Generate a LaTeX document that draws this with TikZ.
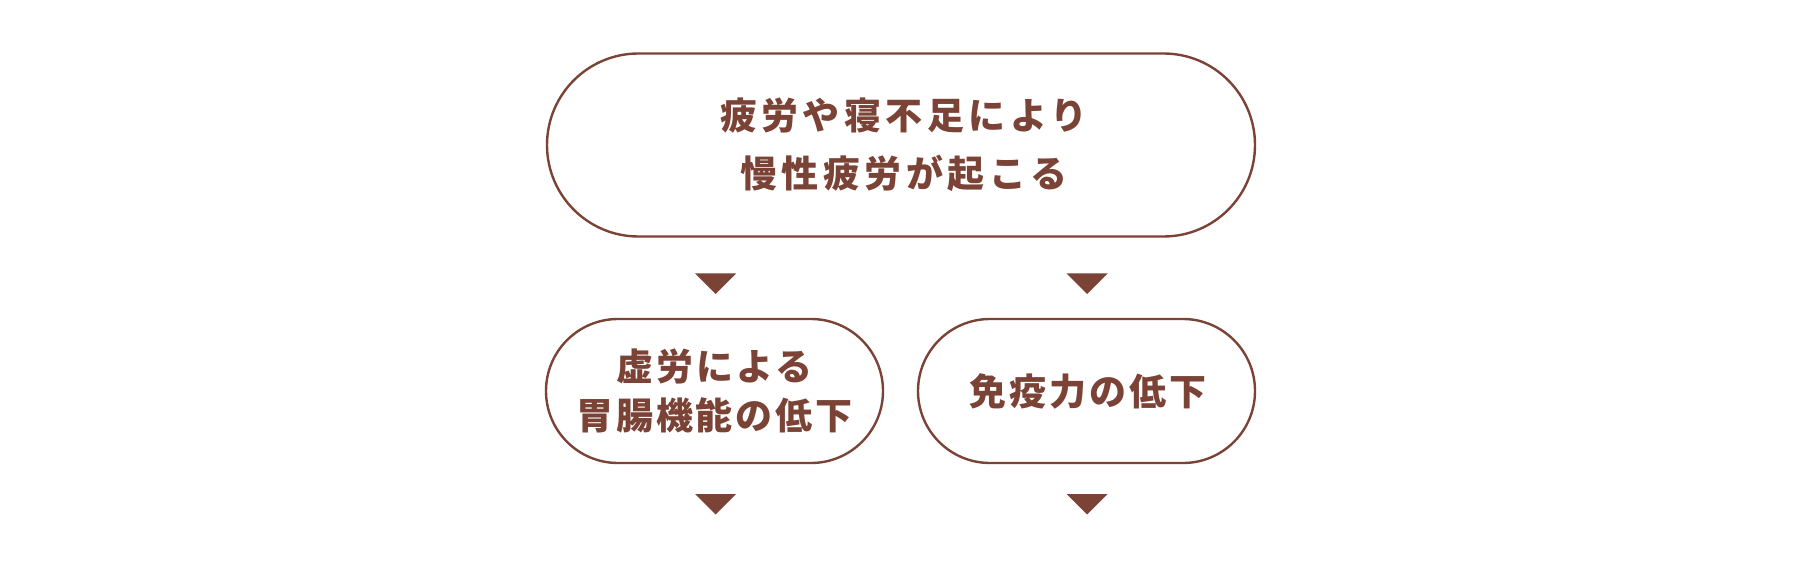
\documentclass[tikz,border=0pt]{standalone}
\usepackage{fontspec}
\newfontfamily\cjkwide{Noto Sans CJK JP}[LetterSpace=12]
\newfontfamily\cjknarrow{Noto Sans CJK JP}[LetterSpace=8]
\definecolor{brn}{RGB}{123,66,54}
\begin{document}
\begin{tikzpicture}[x=1pt,y=-1pt,
  pill/.style={draw=brn, line width=2.4pt, inner sep=0pt, align=center, text=brn},
  bigtxt/.style={font=\cjkwide\bfseries\fontsize{37}{58}\selectfont},
  smalltxt/.style={font=\cjknarrow\bfseries\fontsize{37}{49}\selectfont},
  tri/.style={fill=brn}]
\useasboundingbox (0,0) rectangle (1800,572);
\node[pill, bigtxt, minimum width=708pt, minimum height=183pt, rounded corners=91.5pt] (top) at (901,145) {\hspace*{6pt}疲労や寝不足により\\\hspace*{6pt}慢性疲労が起こる};
\node[pill, smalltxt, minimum width=337pt, minimum height=144pt, rounded corners=72pt] (left) at (714.5,391) {虚労による\\胃腸機能の低下};
\node[pill, smalltxt, minimum width=337pt, minimum height=144pt, rounded corners=72pt] (right) at (1086.5,391) {\hspace*{3pt}免疫力の低下};
\coordinate (a1) at (715.5,273.5);
\coordinate (a2) at (1087,273.5);
\coordinate (b1) at (715.5,494);
\coordinate (b2) at (1087,494);
\foreach \c in {a1,a2,b1,b2}
  \fill[tri] (\c) ++(-20.5,0) -- ++(41,0) -- ++(-20.5,20.5) -- cycle;
\end{tikzpicture}
\end{document}
